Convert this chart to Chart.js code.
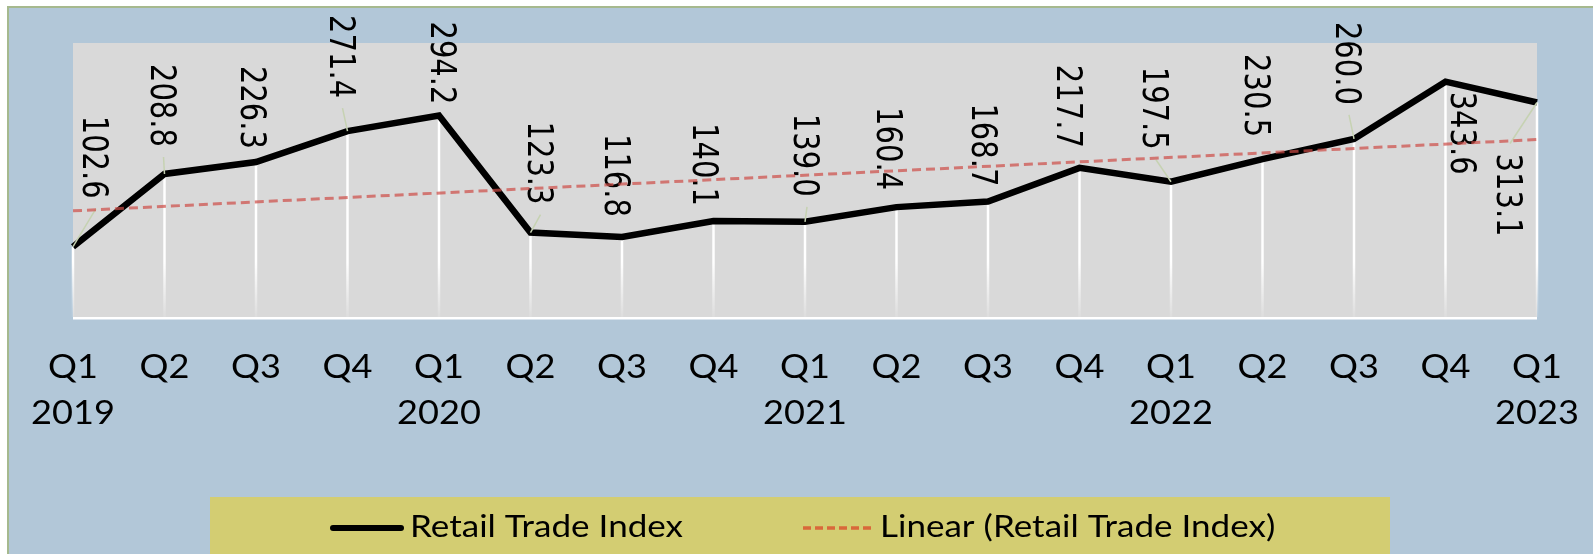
<!DOCTYPE html>
<html>
<head>
<meta charset="utf-8">
<script src="https://cdn.jsdelivr.net/npm/chart.js@4.4.1/dist/chart.umd.min.js"></script>
<style>
  html, body { margin: 0; padding: 0; background: #fff; }
  #wrap { width: 1593px; height: 554px; position: relative; }
</style>
</head>
<body>
<div id="wrap"><canvas id="grafico"></canvas></div>
<script>
// datos
const trimestres = ['Q1', 'Q2', 'Q3', 'Q4', 'Q1', 'Q2', 'Q3', 'Q4', 'Q1', 'Q2', 'Q3', 'Q4', 'Q1', 'Q2', 'Q3', 'Q4', 'Q1'];
const anios = ['2019', '', '', '', '2020', '', '', '', '2021', '', '', '', '2022', '', '', '', '2023'];
const indiceComercio = [102.6, 208.8, 226.3, 271.4, 294.2, 123.3, 116.8, 140.1, 139.0, 160.4, 168.7, 217.7, 197.5, 230.5, 260.0, 343.6, 313.1];
const tendenciaExtremos = [155, 259];
const rangoY = [0, 400];

// desplazamiento de cada etiqueta respecto a su punto: [dx, distancia] (negativa = debajo)
const posEtiquetas = [
    [23, 48], [-1, 27], [-2, 13], [-5, 33], [5, 11], [10, 28], [-4, 20], [-8, 15], [2, 25],
    [-7, 17], [-3, 15], [-10, 20], [-15, 32], [-5, 22], [-5, 34], [18, -10], [-27, -51]
];

const fuenteEje = 'Lato, "Open Sans", sans-serif';
const estiramiento = 1.13;

function texto(ctx, str, x, y, font, sx, align) {
    ctx.save();
    ctx.translate(x, y);
    ctx.scale(sx, 1);
    ctx.font = font;
    ctx.textAlign = align;
    ctx.textBaseline = 'alphabetic';
    ctx.fillStyle = '#000';
    ctx.fillText(str, 0, 0);
    ctx.restore();
}

const fondo = {
    id: 'fondo',
    beforeDraw(chart) {
        const { ctx, chartArea: a, width, height } = chart;
        ctx.save();
        ctx.fillStyle = '#ffffff';
        ctx.fillRect(0, 0, width, height);
        ctx.fillStyle = '#a6b98e';
        ctx.fillRect(7, 6, width - 7, height - 6);
        ctx.fillStyle = '#b2c7d8';
        ctx.fillRect(9, 8, width - 9, height - 8);
        ctx.fillStyle = '#d9d9d9';
        ctx.fillRect(a.left, a.top, a.right - a.left, a.bottom - a.top);
        ctx.fillStyle = '#ffffff';
        ctx.fillRect(a.left, a.bottom, a.right - a.left, 2.5);
        ctx.restore();
    },
    beforeDatasetsDraw(chart) {
        // lineas verticales blancas desde cada punto
        const { ctx, chartArea: a } = chart;
        const meta = chart.getDatasetMeta(0);
        const grad = ctx.createLinearGradient(0, a.top, 0, a.bottom);
        grad.addColorStop(0, 'rgba(255,255,255,1)');
        grad.addColorStop(0.8, 'rgba(255,255,255,1)');
        grad.addColorStop(1, 'rgba(255,255,255,0.1)');
        ctx.save();
        ctx.strokeStyle = grad;
        ctx.lineWidth = 2.5;
        meta.data.forEach(p => {
            ctx.beginPath();
            ctx.moveTo(p.x, p.y);
            ctx.lineTo(p.x, a.bottom);
            ctx.stroke();
        });
        ctx.restore();
    },
    afterDatasetDraw(chart, args) {
        if (args.index !== 0) return;
        const ctx = chart.ctx;
        const fs = 29;
        ctx.save();
        args.meta.data.forEach((p, i) => {
            const [dx, gap] = posEtiquetas[i];
            const cx = p.x + dx;
            const arriba = gap > 0;
            const y0 = p.y - gap;
            if (Math.abs(gap) > 22) {
                ctx.strokeStyle = '#c6d2b2';
                ctx.lineWidth = 1.5;
                ctx.beginPath();
                ctx.moveTo(p.x, p.y);
                ctx.lineTo(cx, arriba ? y0 + 10 : y0 - 10);
                ctx.stroke();
            }
            ctx.save();
            ctx.translate(cx, y0);
            ctx.scale(1.2, 1);
            ctx.rotate(Math.PI / 2);
            ctx.font = fs + 'px "DejaVu Sans"';
            ctx.fillStyle = '#000';
            ctx.textBaseline = 'alphabetic';
            ctx.textAlign = arriba ? 'right' : 'left';
            ctx.fillText(indiceComercio[i].toFixed(1), 0, fs * 0.365);
            ctx.restore();
        });
        ctx.restore();
    },
    afterDraw(chart) {
        const { ctx } = chart;
        const x = chart.scales.x;
        trimestres.forEach((q, i) => {
            const px = x.getPixelForValue(i);
            texto(ctx, q, px, 378, '32px ' + fuenteEje, estiramiento, 'center');
            if (anios[i]) texto(ctx, anios[i], px, 424, '32px ' + fuenteEje, estiramiento, 'center');
        });

        // leyenda
        ctx.save();
        ctx.fillStyle = '#d3cd72';
        ctx.fillRect(210, 497, 1180, 57);
        ctx.lineCap = 'round';
        ctx.strokeStyle = '#000';
        ctx.lineWidth = 6;
        ctx.beginPath();
        ctx.moveTo(333, 528);
        ctx.lineTo(401, 528);
        ctx.stroke();
        ctx.lineCap = 'butt';
        ctx.strokeStyle = '#d9683a';
        ctx.lineWidth = 3.5;
        ctx.setLineDash([8, 4]);
        ctx.beginPath();
        ctx.moveTo(803, 528);
        ctx.lineTo(873, 528);
        ctx.stroke();
        ctx.restore();
        texto(ctx, chart.data.datasets[0].label, 410, 537, '31px ' + fuenteEje, estiramiento, 'left');
        texto(ctx, chart.data.datasets[1].label, 880, 537, '31px ' + fuenteEje, estiramiento, 'left');
    }
};

function crearGrafico() {
    const ultimo = indiceComercio.length - 1;
    const tendencia = indiceComercio.map((v, i) =>
        i === 0 ? tendenciaExtremos[0] : (i === ultimo ? tendenciaExtremos[1] : null));

    const config = {
        type: 'line',
        data: {
            labels: trimestres.map((q, i) => [q, anios[i]]),
            datasets: [{
                label: 'Retail Trade Index',
                data: indiceComercio,
                borderColor: '#000',
                borderWidth: 6.5,
                borderJoinStyle: 'miter',
                pointRadius: 0,
                tension: 0,
                order: 2
            }, {
                label: 'Linear (Retail Trade Index)',
                data: tendencia,
                borderColor: 'rgba(205,75,70,0.7)',
                borderWidth: 3,
                borderDash: [9, 5],
                pointRadius: 0,
                spanGaps: true,
                order: 1
            }]
        },
        options: {
            responsive: true,
            maintainAspectRatio: false,
            animation: false,
            layout: { padding: { left: 73, right: 56, top: 43, bottom: 237 } },
            plugins: {
                legend: { display: false },
                tooltip: { enabled: false }
            },
            scales: {
                x: { display: false },
                y: { display: false, min: rangoY[0], max: rangoY[1] }
            }
        },
        plugins: [fondo]
    };

    const ctx = document.getElementById('grafico').getContext('2d');
    new Chart(ctx, config);
}

Promise.all([
    document.fonts.load('32px Lato'),
    document.fonts.load('29px "DejaVu Sans"')
]).catch(() => {}).then(crearGrafico);
</script>
</body>
</html>
